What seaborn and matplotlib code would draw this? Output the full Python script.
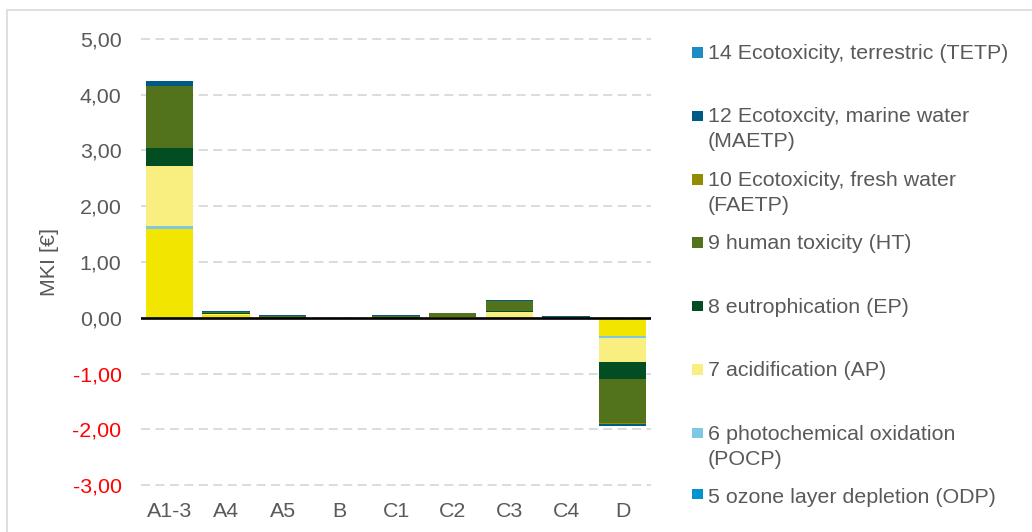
import numpy as np
import pandas as pd
import matplotlib
matplotlib.use("Agg")
import matplotlib.pyplot as plt
import seaborn as sns
from matplotlib.patches import Rectangle, Patch
from matplotlib.legend_handler import HandlerPatch
from matplotlib.ticker import FuncFormatter

# ---------------- data ----------------
categories = ["A1-3", "A4", "A5", "B", "C1", "C2", "C3", "C4", "D"]

gwp   = [1.60, 0.05, 0.00, 0.00, 0.00, 0.01, 0.01, 0.00, -0.32]
odp   = [0.00, 0.00, 0.00, 0.00, 0.00, 0.00, 0.00, 0.00, 0.00]
pocp  = [0.05, 0.00, 0.00, 0.00, 0.00, 0.00, 0.01, 0.00, -0.04]
ap    = [1.08, 0.02, 0.00, 0.00, 0.00, 0.01, 0.08, 0.00, -0.44]
ep    = [0.32, 0.01, 0.00, 0.00, 0.00, 0.00, 0.02, 0.00, -0.29]
ht    = [1.10, 0.03, 0.04, 0.00, 0.04, 0.06, 0.18, 0.02, -0.80]
faetp = [0.01, 0.00, 0.00, 0.00, 0.00, 0.00, 0.00, 0.00, -0.01]
maetp = [0.08, 0.02, 0.01, 0.00, 0.01, 0.01, 0.02, 0.02, -0.04]
tetp  = [0.01, 0.00, 0.00, 0.00, 0.00, 0.00, 0.00, 0.00, 0.00]

series_names = [
    "4 global warming (GWP)",
    "5 ozone layer depletion (ODP)",
    "6 photochemical oxidation\n(POCP)",
    "7 acidification (AP)",
    "8 eutrophication (EP)",
    "9 human toxicity (HT)",
    "10 Ecotoxicity, fresh water\n(FAETP)",
    "12 Ecotoxcity, marine water\n(MAETP)",
    "14 Ecotoxicity, terrestric (TETP)",
]
series_values = [gwp, odp, pocp, ap, ep, ht, faetp, maetp, tetp]
series_colors = ["#F2E500", "#0093D0", "#7EC8E6", "#F9EE80", "#034D22",
                 "#52721B", "#918C00", "#005A86", "#1E8BC3"]
legend_names = series_names[1:]  # bottom series is outside the visible legend

ytick_values = [-3, -2, -1, 0, 1, 2, 3, 4, 5]

# ---------------- style ----------------
sns.set_style("white")
plt.rcParams["font.family"] = ["Liberation Sans", "DejaVu Sans"]
TXT = "#595959"
FS = 15.4

fig = plt.figure(figsize=(10.32, 5.32), dpi=100)
ax = fig.add_axes([141 / 1032, 33 / 532, 510 / 1032, 474 / 532])

pos_base = np.zeros(len(categories))
neg_base = np.zeros(len(categories))
for name, vals, col in zip(series_names, series_values, series_colors):
    v = np.array(vals, dtype=float)
    bottoms = np.where(v >= 0, pos_base, neg_base)
    df = pd.DataFrame({"cat": categories, "val": v})
    sns.barplot(data=df, x="cat", y="val", order=categories, bottom=bottoms,
                color=col, saturation=1, width=0.83, errorbar=None,
                linewidth=0, ax=ax, zorder=2)
    pos_base = pos_base + np.where(v >= 0, v, 0)
    neg_base = neg_base + np.where(v < 0, v, 0)

ax.set_xlim(-0.5, len(categories) - 0.5)
ax.set_ylim(-3.25, 5.25)
ax.set_yticks(ytick_values)
ax.yaxis.set_major_formatter(FuncFormatter(lambda v, p: f"{v:.2f}".replace(".", ",")))
ax.yaxis.grid(True, color="#D9D9D9", linestyle=(0, (5, 3)), linewidth=1.3)
ax.xaxis.grid(False)
ax.set_axisbelow(True)
ax.axhline(0, color="black", linewidth=1.9, zorder=4)
for s in ax.spines.values():
    s.set_visible(False)
ax.tick_params(axis="both", length=0, labelsize=FS, labelcolor=TXT)
ax.tick_params(axis="y", pad=14)
ax.tick_params(axis="x", pad=2)
for lab, v in zip(ax.get_yticklabels(), ytick_values):
    if v < 0:
        lab.set_color("#FF0000")
ax.set_xlabel("")
ax.set_ylabel("MKI [€]", fontsize=FS, color=TXT, labelpad=10)

# ---------------- legend ----------------
class SinglePatch(Patch):
    pass

class TopSquare(HandlerPatch):
    def __init__(self, first_line_offset, **kw):
        super().__init__(**kw)
        self.off = first_line_offset

    def create_artists(self, legend, orig_handle, xdescent, ydescent,
                       width, height, fontsize, trans):
        s = 7.6
        y0 = 0.36 * fontsize + self.off - s / 2
        r = Rectangle((-xdescent, y0), s, s, facecolor=orig_handle.get_facecolor(),
                      edgecolor="none", transform=trans)
        return [r]

handles = []
labels = []
pairs = list(reversed(list(zip(legend_names, series_colors[1:]))))
for i, (name, col) in enumerate(pairs):
    last = i == len(pairs) - 1
    if "\n" in name:
        handles.append(Patch(facecolor=col))
        labels.append(name)
    elif last:
        handles.append(SinglePatch(facecolor=col))
        labels.append(name)
    else:
        handles.append(Patch(facecolor=col))
        labels.append(name + "\n ")

leg = fig.legend(handles, labels, loc="upper left",
                 bbox_to_anchor=(692 / 1032, 1 - 44 / 532),
                 frameon=False, fontsize=FS, borderpad=0, borderaxespad=0,
                 handlelength=0.5, handletextpad=0.25, labelspacing=0.91,
                 handler_map={SinglePatch: TopSquare(1.1),
                              Patch: TopSquare(9.7)})
for t in leg.get_texts():
    t.set_color(TXT)
    t.set_linespacing(1.4)

# outer light border of the chart area
fig.add_artist(Rectangle((7 / 1032, -0.05), 1.2, 1.05 - 10 / 532,
                         transform=fig.transFigure, fill=False,
                         edgecolor="#D9D9D9", linewidth=1.2, clip_on=False))

fig.savefig("out.png", dpi=100, facecolor="white")
